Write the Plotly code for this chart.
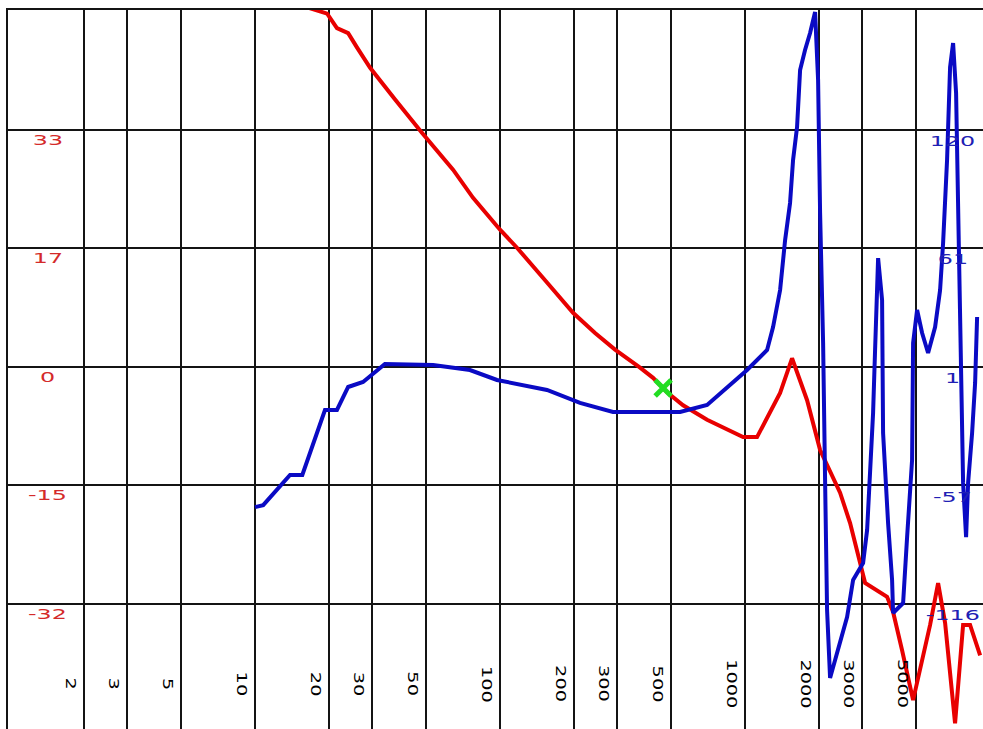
import math
import plotly.graph_objects as go

# Frequencies (Hz) carrying a vertical grid line, and their printed labels
grid_freqs = [2, 3, 5, 10, 20, 30, 50, 100, 200, 300, 500, 1000, 2000, 3000, 5000]
grid_labels = ["2", "3", "5", "10", "20", "30", "50", "100", "200", "300",
               "500", "1000", "2000", "3000", "5000"]

# Gain axis (left, dB) grid values and printed labels
gain_ticks = [33.5, 17.1, 0.7, -15.7, -32.1]
gain_labels = ["33", "17", "0", "-15", "-32"]

# Phase axis (right, degrees) grid values and printed labels
phase_ticks = [120.5, 61.2, 1.9, -57.4, -116.7]
phase_labels = ["120", "61", "1", "-57", "-116"]

# Gain response
gain_freq = [13.9, 19.7, 21.6, 24.0, 26.1, 29.5, 37.3, 48.0, 64.3, 77.6, 100,
             117.3, 152.7, 198.6, 244.2, 294.7, 372.7, 421.2, 480.4, 558.5,
             699.7, 981, 1119, 1390, 1555, 1791, 2024, 2442, 2683, 2947, 3090,
             3798, 4019, 4373, 4850, 5690, 6135, 6551, 7195, 7759, 8285, 9106]
gain_db = [51.2, 49.6, 47.6, 46.9, 44.9, 42.1, 37.7, 33.1, 28.0, 24.1, 19.7,
           17.2, 12.7, 8.2, 5.4, 3.1, 0.6, -0.8, -2.8, -4.6,
           -6.6, -9.0, -9.0, -2.9, 1.9, -3.9, -10.8, -16.7, -20.9, -26.4, -29.2,
           -31.1, -33.2, -38.5, -45.4, -35.0, -29.2, -34.7, -48.6, -35.0, -35.0, -39.2]

# Phase response
phase_freq = [10, 10.8, 13.9, 15.6, 19.3, 21.6, 24.0, 27.6, 33.9, 42.9, 53.3,
              75.4, 97.2, 155.5, 212, 289, 543, 700, 1019, 1230, 1301, 1390,
              1457, 1526, 1570, 1630, 1677, 1757, 1842, 1931, 1986, 2024, 2082,
              2121, 2161, 2223, 2442, 2608, 2760, 3031, 3148, 3237, 3330, 3393,
              3458, 3491, 3624, 3658, 3834, 3981, 4019, 4415, 4584, 4804, 4850,
              5035, 5279, 5584, 5964, 6250, 6429, 6674, 6865, 7063, 7264, 7402,
              7472, 7614, 7686, 7759, 7980, 8133, 8444, 8686, 8850]
phase_deg = [-68.2, -67.2, -52.1, -52.1, -19.6, -19.6, -8.1, -5.6, 3.4, 3.4, 2.9,
             0.4, -4.6, -9.6, -16.1, -20.6, -20.6, -17.1, 0.4, 10.4, 21.9, 40.4,
             65.5, 84.0, 105.5, 122.0, 150.5, 160.5, 169.0, 179.5, 145.5, 79.0, 13.9,
             -54.6, -119.7, -153.7, -136.2, -123.2, -104.7, -96.2, -79.7, -49.6, -21.1, 10.4,
             40.4, 56.4, 35.4, -31.1, -76.2, -104.7, -121.2, -116.2, -83.2, -44.6, 13.9,
             30.4, 18.9, 8.9, 21.9, 40.4, 63.9, 105.5, 152.0, 164.0, 139.0, 89.0,
             51.9, 1.9, -8.1, -56.1, -83.2, -56.1, -31.1, -6.1, 26.9]

# Unity-gain crossover marker
cross_freq = [463]
cross_db = [-2.2]

GRID = "#141414"
RED = "#e80000"
BLUE = "#0a0ac4"
LABEL_FONT = "DejaVu Sans"

fig = go.Figure()

fig.add_trace(go.Scatter(
    x=gain_freq, y=gain_db, mode="lines", yaxis="y",
    line=dict(color=RED, width=4), showlegend=False, hoverinfo="skip"))

fig.add_trace(go.Scatter(
    x=phase_freq, y=phase_deg, mode="lines", yaxis="y2",
    line=dict(color=BLUE, width=4), showlegend=False, hoverinfo="skip"))

fig.add_trace(go.Scatter(
    x=cross_freq, y=cross_db, mode="markers", yaxis="y",
    marker=dict(symbol="x-thin", size=16, line=dict(color="#22dd22", width=5)),
    showlegend=False, hoverinfo="skip"))

annotations = []

# Frequency labels, rotated, just left of each grid line near the bottom
for f, lab in zip(grid_freqs, grid_labels):
    annotations.append(dict(
        x=math.log10(f), xref="x", y=0.0626, yref="paper",
        text=lab, showarrow=False, textangle=90,
        xanchor="right", yanchor="middle", xshift=-3,
        font=dict(family=LABEL_FONT, size=14, color="#000000")))

# Gain labels on the left, below their grid lines
for v, lab in zip(gain_ticks, gain_labels):
    annotations.append(dict(
        x=0.041, xref="paper", y=v, yref="y",
        text=lab, showarrow=False, xanchor="center", yanchor="middle",
        yshift=-10, font=dict(family=LABEL_FONT, size=14, color="#d42a2a")))

# Phase labels on the right, below their grid lines
for v, lab in zip(phase_ticks, phase_labels):
    annotations.append(dict(
        x=0.969, xref="paper", y=v, yref="y2",
        text=lab, showarrow=False, xanchor="center", yanchor="middle",
        yshift=-11, font=dict(family=LABEL_FONT, size=14, color="#2020b4")))

fig.update_layout(
    width=983, height=729,
    margin=dict(l=8, r=0, t=10, b=0),
    paper_bgcolor="white", plot_bgcolor="white",
    annotations=annotations,
    xaxis=dict(
        type="log", range=[-0.008, 3.971], side="top",
        tickvals=grid_freqs, showticklabels=False, ticks="",
        showgrid=True, gridcolor=GRID, gridwidth=2,
        showline=True, linecolor=GRID, linewidth=2, zeroline=False),
    yaxis=dict(
        range=[-49.4, 50.1], tickvals=gain_ticks, showticklabels=False, ticks="",
        showgrid=True, gridcolor=GRID, gridwidth=2,
        showline=True, linecolor=GRID, linewidth=2, zeroline=False),
    yaxis2=dict(
        range=[-179.24, 180.54], overlaying="y", side="right",
        showticklabels=False, ticks="", showgrid=False, zeroline=False,
        showline=False),
)

# Widen the label glyphs along their reading direction (wide, blocky lettering)
stretch_js = """
var gd = document.getElementById('{plot_id}');
function stretchLabels() {
  gd.querySelectorAll('g.annotation').forEach(function (a) {
    var t = a.querySelector('text.annotation-text');
    if (!t) return;
    var g = a.querySelector('g.annotation-text-g');
    var m = /rotate\\(\\s*(-?[\\d.]+)/.exec((g && g.getAttribute('transform')) || '');
    var rotated = m && Math.abs(parseFloat(m[1])) > 1;
    var s = rotated ? 1.38 : 1.7;
    var base = t.getAttribute('data-base-transform');
    if (base === null) {
      base = t.getAttribute('transform') || '';
      t.setAttribute('data-base-transform', base);
    }
    var b = t.getBBox();
    var cx = b.x + b.width / 2;
    t.setAttribute('transform', base + ' translate(' + cx + ',0) scale(' + s + ',1) translate(' + (-cx) + ',0)');
  });
}
stretchLabels();
gd.on('plotly_afterplot', stretchLabels);
"""

fig.write_html("out.html", post_script=stretch_js)
